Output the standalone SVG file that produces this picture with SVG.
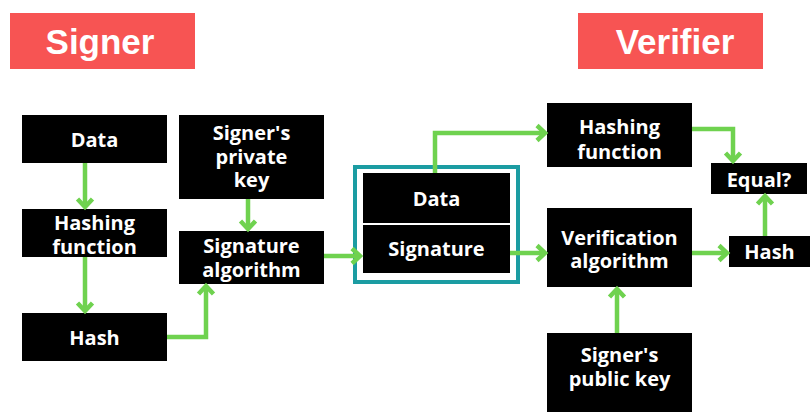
<svg xmlns="http://www.w3.org/2000/svg" width="810" height="412" viewBox="0 0 810 412">
<defs>
<style>
.title{fill:#f75453}
.ttl{font-family:"Liberation Sans",Arial,sans-serif;font-weight:bold;font-size:35px;fill:#fff;text-anchor:middle}
.box{fill:#000}
.t{font-family:"Open Sans","DejaVu Sans",sans-serif;font-weight:bold;font-size:20px;fill:#fff;text-anchor:middle}
.c{fill:none;stroke:#6fd24f;stroke-width:4.5;stroke-linejoin:miter}
</style>
<marker id="ah" markerUnits="userSpaceOnUse" markerWidth="20" markerHeight="20" refX="10" refY="10" orient="auto" overflow="visible">
<path d="M2,2.5 L10,10 L2,17.5" fill="none" stroke="#6fd24f" stroke-width="4.5"/>
</marker>
</defs>
<rect width="810" height="412" fill="#fff"/>
<g id="signer-title"><rect class="title" x="10" y="13" width="185" height="56"/><text class="ttl" x="100" y="54">Signer</text></g>
<g id="verifier-title"><rect class="title" x="578" y="13" width="185" height="56"/><text class="ttl" x="675" y="54">Verifier</text></g>

<g id="data1"><rect class="box" x="22" y="115" width="145" height="48"/><text class="t" x="94.5" y="147" font-size="21">Data</text></g>
<g id="hashfn1"><rect class="box" x="22" y="209" width="145" height="48"/><text class="t" x="94.5" y="230">Hashing</text><text class="t" x="94.5" y="254">function</text></g>
<g id="hash1"><rect class="box" x="22" y="313" width="145" height="48"/><text class="t" x="94.5" y="345" font-size="21">Hash</text></g>
<g id="privkey"><rect class="box" x="179" y="115" width="145" height="84"/><text class="t" x="251.5" y="140">Signer's</text><text class="t" x="251.5" y="164">private</text><text class="t" x="251.5" y="187">key</text></g>
<g id="sigalg"><rect class="box" x="179" y="231" width="145" height="53"/><text class="t" x="251.5" y="253">Signature</text><text class="t" x="251.5" y="277">algorithm</text></g>

<g id="bundle">
<rect x="355" y="167" width="163" height="115" fill="none" stroke="#1b9ca2" stroke-width="4"/>
<rect class="box" x="363" y="173" width="147" height="50"/><text class="t" x="436.5" y="206" font-size="21">Data</text>
<rect class="box" x="363" y="225" width="147" height="48"/><text class="t" x="436.5" y="256" font-size="21">Signature</text>
</g>

<g id="hashfn2"><rect class="box" x="547" y="103" width="145" height="64"/><text class="t" x="619.5" y="134" font-size="24">Hashing</text><text class="t" x="619.5" y="159" font-size="24">function</text></g>
<g id="verify"><rect class="box" x="547" y="208" width="145" height="79"/><text class="t" x="619.5" y="245" font-size="22">Verification</text><text class="t" x="619.5" y="268" font-size="22">algorithm</text></g>
<g id="pubkey"><rect class="box" x="547" y="333" width="145" height="85"/><text class="t" x="619.5" y="362" font-size="22">Signer's</text><text class="t" x="619.5" y="386" font-size="22">public key</text></g>
<g id="equal"><rect class="box" x="711" y="163" width="96" height="31"/><text class="t" x="759" y="187" font-size="22">Equal?</text></g>
<g id="hash2"><rect class="box" x="729" y="236" width="81" height="31"/><text class="t" x="769.5" y="259" font-size="21">Hash</text></g>

<g id="connectors">
<path class="c" d="M85,163 L85,207" marker-end="url(#ah)"/>
<path class="c" d="M85,257 L85,311" marker-end="url(#ah)"/>
<path class="c" d="M248,199 L248,229" marker-end="url(#ah)"/>
<path class="c" d="M167,337 L206,337 L206,286" marker-end="url(#ah)"/>
<path class="c" d="M324,256 L360,256" marker-end="url(#ah)"/>
<path class="c" d="M435,173 L435,133 L545,133" marker-end="url(#ah)"/>
<path class="c" d="M510,253 L545,253" marker-end="url(#ah)"/>
<path class="c" d="M692,129 L733,129 L733,161" marker-end="url(#ah)"/>
<path class="c" d="M692,253 L727,253" marker-end="url(#ah)"/>
<path class="c" d="M765,236 L765,196" marker-end="url(#ah)"/>
<path class="c" d="M617,333 L617,289" marker-end="url(#ah)"/>
</g>
</svg>
